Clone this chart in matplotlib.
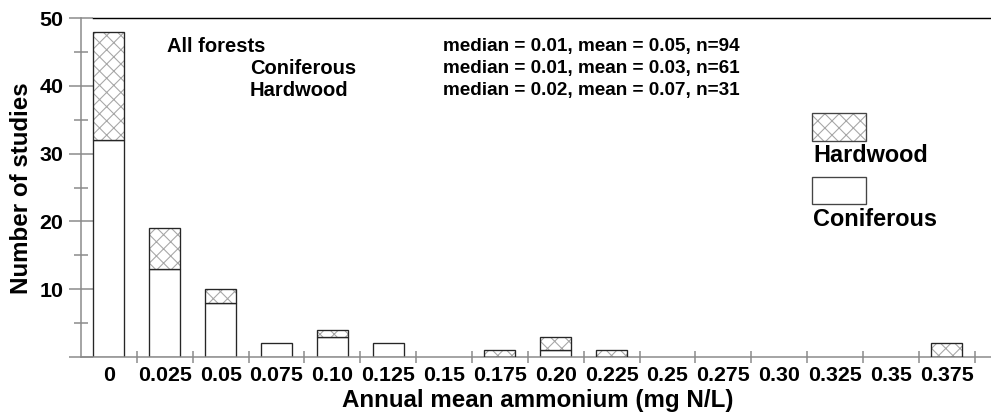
import matplotlib
matplotlib.use("Agg")
import matplotlib.pyplot as plt
from matplotlib.patches import Rectangle
import numpy as np

plt.rcParams['font.family'] = ['Liberation Sans', 'DejaVu Sans']
plt.rcParams['font.weight'] = 'bold'
plt.rcParams['hatch.linewidth'] = 0.6

# bin labels (mg N/L) and study counts per forest type
bins = ['0', '0.025', '0.05', '0.075', '0.10', '0.125', '0.15', '0.175',
        '0.20', '0.225', '0.25', '0.275', '0.30', '0.325', '0.35', '0.375']
coniferous = [32, 13, 8, 2, 3, 2, 0, 0, 1, 0, 0, 0, 0, 0, 0, 0]
hardwood = [16, 6, 2, 0, 1, 0, 0, 1, 2, 1, 0, 0, 0, 0, 0, 2]

stats_names = ['All forests', 'Coniferous', 'Hardwood']
stats_text = ['median = 0.01, mean = 0.05, n=94',
              'median = 0.01, mean = 0.03, n=61',
              'median = 0.02, mean = 0.07, n=31']

W, H, DPI = 991, 413, 128
fig = plt.figure(figsize=(W / DPI, H / DPI), dpi=DPI)
ax = fig.add_axes([81 / W, 1 - 357 / H, 910 / W, 339 / H])


def fx(px):
    return px / W


def fy(py):
    return 1 - py / H


x = np.arange(len(bins))
con = np.array(coniferous, dtype=float)
hw = np.array(hardwood, dtype=float)
bw = 0.555
edge = '#262626'
hatch_col = '#a6a6a6'

m = con > 0
ax.bar(x[m], con[m], width=bw, color='white', edgecolor=edge, linewidth=0.75, zorder=2)
m = hw > 0
ax.bar(x[m], hw[m], bottom=con[m], width=bw, color='white', edgecolor=hatch_col,
       hatch='xxx', linewidth=0, zorder=2)
ax.bar(x[m], hw[m], bottom=con[m], width=bw, fill=False, edgecolor=edge,
       linewidth=0.75, zorder=3)

ax.set_xlim(-0.5, 15.79)
ax.set_ylim(0, 50)

gray = '#8a8a8a'
for s in ['left', 'bottom']:
    ax.spines[s].set_color(gray)
    ax.spines[s].set_linewidth(0.85)
ax.spines['right'].set_visible(False)
ax.spines['top'].set_color('black')
ax.spines['top'].set_linewidth(0.8)
ax.spines['top'].set_bounds(-0.28, 15.79)

ax.set_yticks([0, 10, 20, 30, 40, 50])
ax.set_yticklabels(['', '10', '20', '30', '40', '50'])
ax.set_yticks(np.arange(5, 50, 10), minor=True)
ax.tick_params(axis='y', which='major', direction='inout', length=14, width=0.85,
               color=gray, labelsize=12, pad=3)
ax.tick_params(axis='y', which='minor', direction='inout', length=8.4, width=0.85,
               color=gray)

ax.set_xticks(np.arange(len(bins)) + 0.5)
ax.set_xticklabels([])
ax.set_xticks(x, minor=True)
ax.set_xticklabels(bins, minor=True)
ax.tick_params(axis='x', which='major', direction='inout', length=6.8, width=0.85,
               color=gray)
ax.tick_params(axis='x', which='minor', length=0, labelsize=12, pad=5)
for t in ax.get_xticklabels(minor=True) + ax.get_yticklabels():
    t.set_fontweight('bold')

fig.text(fx(22), fy(188), 'Number of studies', rotation=90, ha='center', va='center',
         fontsize=13.6, fontweight='bold')
fig.text(fx(538), fy(400), 'Annual mean ammonium (mg N/L)', ha='center', va='center',
         fontsize=13.6, fontweight='bold')

# summary statistics
name_x = [167, 250, 250]
rows_y = [46, 68, 91]
for name, txt, nx, ry in zip(stats_names, stats_text, name_x, rows_y):
    fig.text(fx(nx), fy(ry), name, ha='left', va='center', fontsize=11.3, fontweight='bold')
    fig.text(fx(443), fy(ry), txt, ha='left', va='center', fontsize=10.6, fontweight='bold')

# legend boxes
fig.add_artist(Rectangle((fx(812), fy(141)), fx(54), 28 / H, transform=fig.transFigure,
                         facecolor='white', edgecolor=hatch_col, hatch='xxx', linewidth=0))
fig.add_artist(Rectangle((fx(812), fy(141)), fx(54), 28 / H, transform=fig.transFigure,
                         fill=False, edgecolor='#444444', linewidth=0.75))
fig.text(fx(813), fy(156), 'Hardwood', ha='left', va='center', fontsize=13.2,
         fontweight='bold')
fig.add_artist(Rectangle((fx(812), fy(204)), fx(54), 27 / H, transform=fig.transFigure,
                         facecolor='white', edgecolor='#444444', linewidth=0.75))
fig.text(fx(813), fy(219), 'Coniferous', ha='left', va='center', fontsize=13.2,
         fontweight='bold')

fig.savefig('out.png', dpi=DPI)
